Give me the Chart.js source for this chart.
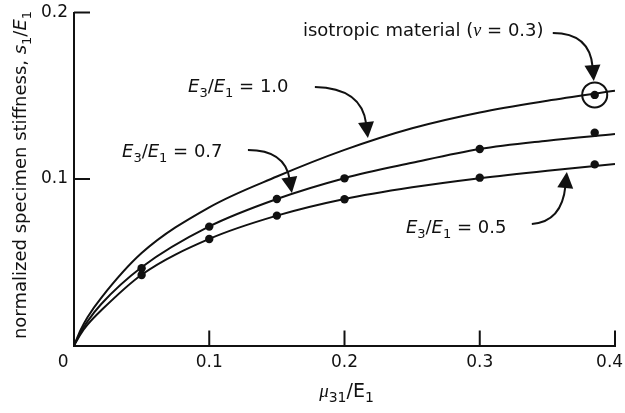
<!DOCTYPE html>
<html>
<head>
<meta charset="utf-8">
<script src="https://cdn.jsdelivr.net/npm/chart.js@4"></script>
<style>
  body { margin: 0; background: #fff; }
  canvas { display: block; }
</style>
</head>
<body>
<canvas id="myChart" width="625" height="413"></canvas>
<script>
"use strict";

// x values for the fitted curves
const curveX = [0, 0.005, 0.01, 0.02, 0.05, 0.1, 0.15, 0.2, 0.25, 0.3, 0.35, 0.4];
// E3/E1 = 1.0, 0.7 and 0.5 curves
const curve10 = [0, 0.0095, 0.017, 0.0285, 0.0555, 0.083, 0.1015, 0.1175, 0.1305, 0.140, 0.147, 0.153];
const curve07 = [0, 0.008, 0.0145, 0.0248, 0.047, 0.0715, 0.088, 0.1005, 0.1097, 0.118, 0.123, 0.127];
const curve05 = [0, 0.007, 0.0125, 0.021, 0.0425, 0.064, 0.078, 0.088, 0.095, 0.1005, 0.105, 0.109];

// measured points
const pointX = [0.05, 0.1, 0.15, 0.2, 0.3, 0.385];
const points07 = [0.0464, 0.0714, 0.088, 0.1004, 0.118, 0.1278];
const points05 = [0.0423, 0.064, 0.078, 0.0878, 0.1008, 0.1088];
const isoX = [0.385];
const isoY = [0.1505];

// tick labels
const xTickLabels = ['0    ', '0.1', '0.2', '0.3', '0.4  '];
const yTickLabels = ['', '0.1', '0.2'];

const ink = '#111';
const sans = '"DejaVu Sans"';

function pairs(xs, ys) {
  return xs.map((x, i) => ({ x: x, y: ys[i] }));
}

//Font för en textdel: i = kursiv, s = nedsänkt, g = grekisk
function fontFor(style, size) {
  const sz = style.includes('s') ? Math.round(size * 0.72) : size;
  if (style.includes('g')) return 'italic ' + sz + 'px "Liberation Serif"';
  return (style.includes('i') ? 'italic ' : '') + sz + 'px ' + sans;
}

function drawRich(ctx, parts, x, y, size, align) {
  let w = 0;
  parts.forEach(([t, st]) => { ctx.font = fontFor(st, size); w += ctx.measureText(t).width; });
  let cx = align === 'center' ? x - w / 2 : x;
  ctx.textAlign = 'left';
  ctx.textBaseline = 'alphabetic';
  parts.forEach(([t, st]) => {
    ctx.font = fontFor(st, size);
    ctx.fillText(t, cx, y + (st.includes('s') ? size * 0.28 : 0));
    cx += ctx.measureText(t).width;
  });
}

// labels with arrows, anchored in data units
const notes = [
  { parts: [['isotropic material (', ''], ['\u03BD', 'g'], [' = 0.3)', '']], at: [0.1693, 0.1859],
    arrow: [[0.354, 0.1877], [0.3814, 0.1877], [0.3843, 0.1588]] },
  { parts: [['E', 'i'], ['3', 's'], ['/', ''], ['E', 'i'], ['1', 's'], [' = 1.0', '']], at: [0.0843, 0.1523],
    arrow: [[0.1781, 0.1553], [0.2129, 0.1547], [0.2173, 0.1246]] },
  { parts: [['E', 'i'], ['3', 's'], ['/', ''], ['E', 'i'], ['1', 's'], [' = 0.7', '']], at: [0.0355, 0.1132],
    arrow: [[0.1286, 0.1174], [0.1559, 0.1174], [0.1611, 0.0916]] },
  { parts: [['E', 'i'], ['3', 's'], ['/', ''], ['E', 'i'], ['1', 's'], [' = 0.5', '']], at: [0.2454, 0.0676],
    arrow: [[0.3385, 0.073], [0.3607, 0.0742], [0.3644, 0.1042]] }
];

const overlay = {
  id: 'overlay',
  afterDraw(chart) {
    const { ctx, chartArea: area, scales: { x, y } } = chart;
    ctx.save();
    ctx.strokeStyle = ink;
    ctx.fillStyle = ink;
    ctx.lineWidth = 2;

    //Inåtriktade tickmarkeringar
    x.ticks.forEach(t => {
      if (t.value === 0) return;
      const px = x.getPixelForValue(t.value);
      ctx.beginPath(); ctx.moveTo(px, area.bottom); ctx.lineTo(px, area.bottom - 15); ctx.stroke();
    });
    y.ticks.forEach(t => {
      if (t.value === 0) return;
      const py = y.getPixelForValue(t.value);
      ctx.beginPath(); ctx.moveTo(area.left, py); ctx.lineTo(area.left + 16, py); ctx.stroke();
    });

    // axis titles
    drawRich(ctx, [['\u03BC', 'g'], ['31', 's'], ['/E', ''], ['1', 's']], (area.left + area.right) / 2 + 2, 397, 19, 'center');
    ctx.save();
    ctx.translate(26, 175);
    ctx.rotate(-Math.PI / 2);
    drawRich(ctx, [['normalized specimen stiffness, ', ''], ['s', 'i'], ['1', 's'], ['/', ''], ['E', 'i'], ['1', 's']], 0, 0, 18, 'center');
    ctx.restore();

    // circle round the isotropic point
    ctx.beginPath();
    ctx.arc(x.getPixelForValue(isoX[0]), y.getPixelForValue(isoY[0]), 12.5, 0, Math.PI * 2);
    ctx.stroke();

    // labels and arrows
    notes.forEach(n => {
      drawRich(ctx, n.parts, x.getPixelForValue(n.at[0]), y.getPixelForValue(n.at[1]), 18, 'left');
      const [s, c, t] = n.arrow.map(p => [x.getPixelForValue(p[0]), y.getPixelForValue(p[1])]);
      const dx = t[0] - c[0], dy = t[1] - c[1];
      const len = Math.hypot(dx, dy);
      const ux = dx / len, uy = dy / len;
      const head = 16, half = 8;
      const bx = t[0] - ux * head, by = t[1] - uy * head;
      ctx.beginPath();
      ctx.moveTo(s[0], s[1]);
      ctx.quadraticCurveTo(c[0], c[1], bx + ux * 2, by + uy * 2);
      ctx.stroke();
      ctx.beginPath();
      ctx.moveTo(t[0], t[1]);
      ctx.lineTo(bx - uy * half, by + ux * half);
      ctx.lineTo(bx + uy * half, by - ux * half);
      ctx.closePath();
      ctx.fill();
    });
    ctx.restore();
  }
};

function lineSet(ys) {
  return {
    data: pairs(curveX, ys), showLine: true, pointRadius: 0,
    borderColor: ink, borderWidth: 2, cubicInterpolationMode: 'monotone'
  };
}

function pointSet(xs, ys) {
  return {
    data: pairs(xs, ys), showLine: false, pointRadius: 4.2,
    backgroundColor: ink, borderColor: ink, borderWidth: 0
  };
}

new Chart(document.getElementById('myChart'), {
  type: 'scatter',
  data: {
    datasets: [
      pointSet(pointX, points07),
      pointSet(pointX, points05),
      pointSet(isoX, isoY),
      lineSet(curve10),
      lineSet(curve07),
      lineSet(curve05)
    ]
  },
  options: {
    responsive: false,
    animation: false,
    layout: { padding: { top: 12.5, right: 10, left: 0, bottom: 0 } },
    plugins: { legend: { display: false }, tooltip: { enabled: false } },
    scales: {
      x: {
        type: 'linear', min: 0, max: 0.4,
        grid: { display: false, drawTicks: false },
        border: { color: ink, width: 2 },
        ticks: {
          stepSize: 0.1, padding: 7, color: ink, maxRotation: 0,
          font: { family: sans, size: 17 },
          callback: (v, i) => xTickLabels[i]
        },
        afterFit(s) { s.height = 67.5; s.paddingLeft = 0; s.paddingRight = 0; }
      },
      y: {
        type: 'linear', min: 0, max: 0.2,
        grid: { display: false, drawTicks: false },
        border: { color: ink, width: 2 },
        ticks: {
          stepSize: 0.1, padding: 6, color: ink,
          font: { family: sans, size: 17 },
          callback: (v, i) => yTickLabels[i]
        },
        afterFit(s) { s.width = 74; s.paddingTop = 0; s.paddingBottom = 0; }
      }
    }
  },
  plugins: [overlay]
});
</script>
</body>
</html>
